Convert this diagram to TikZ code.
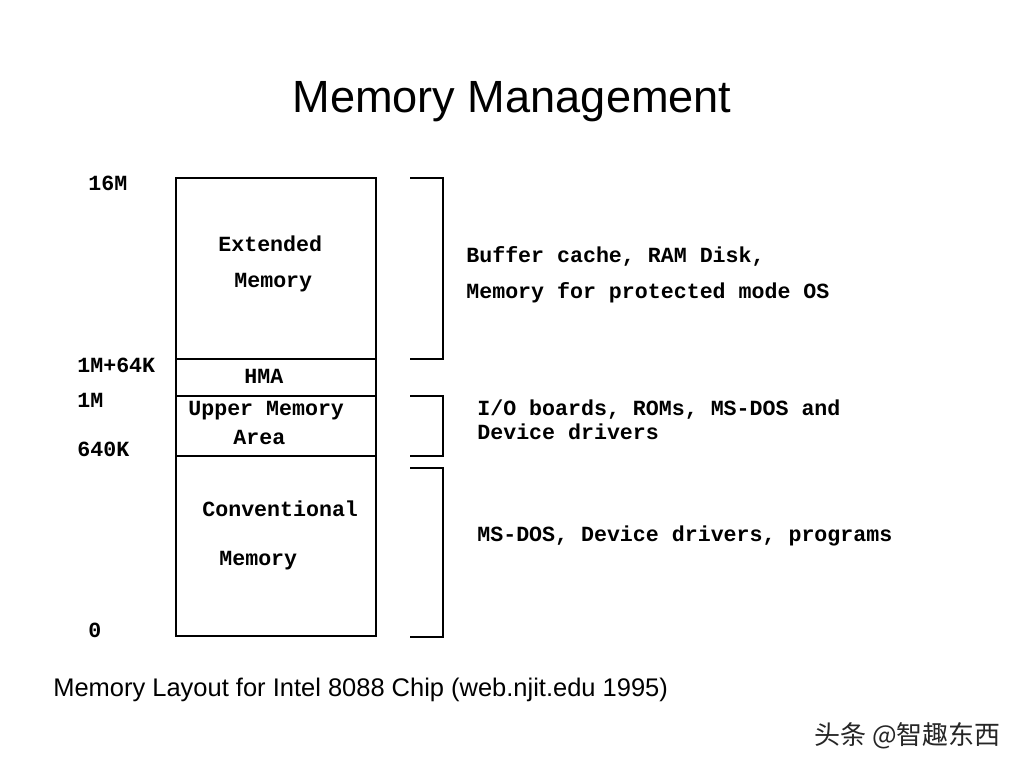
\documentclass[tikz,border=0pt]{standalone}
\usepackage{fontspec}
\setmainfont{Liberation Sans}
\setsansfont{Liberation Sans}
\setmonofont{Liberation Mono}
\newfontfamily\cjk{Noto Sans CJK SC}
\usetikzlibrary{positioning}

\begin{document}
\begin{tikzpicture}[
			x=0.02cm, y=-0.02cm,
			wall/.style={draw=black, line width=1.1pt},
			brace/.style={draw=black, line width=1.1pt},
			addr/.style={anchor=base west, inner sep=0pt, font=\fontsize{12.3}{14}\selectfont\ttfamily\bfseries},
			area/.style={anchor=base west, inner sep=0pt, font=\fontsize{12.3}{14}\selectfont\ttfamily\bfseries},
			usage/.style={anchor=base west, inner sep=0pt, font=\fontsize{12.3}{14}\selectfont\ttfamily\bfseries},
			heading/.style={anchor=base, inner sep=0pt, font=\fontsize{25.7}{30}\selectfont\sffamily},
			caption/.style={anchor=base west, inner sep=0pt, font=\fontsize{14.5}{17}\selectfont\sffamily}
			]
			\useasboundingbox[fill=white] (0,0) rectangle (1024,768);
			
			% Title
			\node[heading] (title) at (512,112) {Memory Management};
			
			% Memory column with its partitions
			\draw[wall] (176,178) rectangle (376,636);
			\draw[wall] (176,359) -- (376,359);
			\draw[wall] (176,396) -- (376,396);
			\draw[wall] (176,456) -- (376,456);
			
			% Addresses
			\node[addr] (a16m) at (88,190) {16M};
			\node[addr] (a1m64k) at (77,372) {1M+64K};
			\node[addr] (a1m) at (77,407) {1M};
			\node[addr] (a640k) at (77,456) {640K};
			\node[addr] (azero) at (88,637) {0};
			
			% Names of the areas
			\node[area] (ext1) at (218,251) {Extended};
			\node[area] (ext2) at (234,287) {Memory};
			\node[area] (hma) at (244,383) {HMA};
			\node[area] (uma1) at (188,415) {Upper Memory};
			\node[area] (uma2) at (233,444) {Area};
			\node[area] (conv1) at (202,516) {Conventional};
			\node[area] (conv2) at (219,565) {Memory};
			
			% Brackets
			\draw[brace] (410,178) -- (443,178) -- (443,359) -- (410,359);
			\draw[brace] (410,396) -- (443,396) -- (443,456) -- (410,456);
			\draw[brace] (410,468) -- (443,468) -- (443,637) -- (410,637);
			
			% What each area holds
			\node[usage] (use1a) at (466,262) {Buffer cache, RAM Disk,};
			\node[usage] (use1b) at (466,298) {Memory for protected mode OS};
			\node[usage] (use2a) at (477,415) {I/O boards, ROMs, MS-DOS and};
			\node[usage] (use2b) at (477,439) {Device drivers};
			\node[usage] (use3) at (477,541) {MS-DOS, Device drivers, programs};
			
			% Caption and watermark
			\node[caption] (cap) at (53,696) {Memory Layout for Intel 8088 Chip (web.njit.edu 1995)};
			\node[anchor=base west, inner sep=0pt, font=\fontsize{14.8}{17}\selectfont\cjk, text=black!85] (mark) at (814,744) {头条 @智趣东西};
			
		\end{tikzpicture}
\end{document}
